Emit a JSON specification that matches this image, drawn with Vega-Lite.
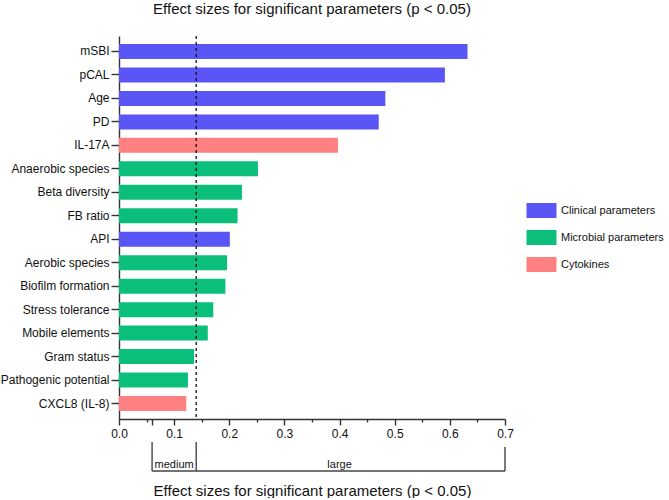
{
  "$schema": "https://vega.github.io/schema/vega-lite/v6.json",
  "padding": {"left": 0, "top": 2, "right": 0, "bottom": 0},
  "background": "white",
  "config": {
    "view": {"stroke": null},
    "font": "Liberation Sans",
    "axis": {"labelFont": "Liberation Sans", "titleFont": "Liberation Sans", "labelColor": "#111", "titleColor": "#111", "domainColor": "#333", "tickColor": "#333", "domainWidth": 1.4, "tickWidth": 1.4, "grid": false},
    "legend": {"labelFont": "Liberation Sans"},
    "title": {"font": "Liberation Sans"}
  },
  "spacing": 2,
  "vconcat": [
    {
      "width": 386,
      "height": 383,
      "title": {"text": "Effect sizes for significant parameters (p < 0.05)", "fontSize": 15, "fontWeight": "normal", "color": "#111", "anchor": "middle", "offset": 18},
      "layer": [
        {
          "data": {"values": [
            {"param": "mSBI", "effect": 0.632, "group": "Clinical parameters"},
            {"param": "pCAL", "effect": 0.591, "group": "Clinical parameters"},
            {"param": "Age", "effect": 0.483, "group": "Clinical parameters"},
            {"param": "PD", "effect": 0.471, "group": "Clinical parameters"},
            {"param": "IL-17A", "effect": 0.397, "group": "Cytokines"},
            {"param": "Anaerobic species", "effect": 0.252, "group": "Microbial parameters"},
            {"param": "Beta diversity", "effect": 0.223, "group": "Microbial parameters"},
            {"param": "FB ratio", "effect": 0.215, "group": "Microbial parameters"},
            {"param": "API", "effect": 0.201, "group": "Clinical parameters"},
            {"param": "Aerobic species", "effect": 0.196, "group": "Microbial parameters"},
            {"param": "Biofilm formation", "effect": 0.193, "group": "Microbial parameters"},
            {"param": "Stress tolerance", "effect": 0.171, "group": "Microbial parameters"},
            {"param": "Mobile elements", "effect": 0.161, "group": "Microbial parameters"},
            {"param": "Gram status", "effect": 0.136, "group": "Microbial parameters"},
            {"param": "Pathogenic potential", "effect": 0.125, "group": "Microbial parameters"},
            {"param": "CXCL8 (IL-8)", "effect": 0.122, "group": "Cytokines"}
          ]},
          "mark": {"type": "bar"},
          "encoding": {
            "y": {"field": "param", "type": "nominal", "sort": null, "title": null,
              "scale": {"paddingInner": 0.36, "paddingOuter": 0.34},
              "axis": {"labelFontSize": 12, "tickSize": 8, "labelPadding": 2}},
            "x": {"field": "effect", "type": "quantitative", "title": null,
              "scale": {"domain": [0, 0.7], "nice": false},
              "axis": {"values": [0, 0.05, 0.06, 0.1, 0.15, 0.2, 0.25, 0.3, 0.35, 0.4, 0.45, 0.5, 0.55, 0.6, 0.65, 0.7],
                "tickCount": 30,
                "labelExpr": "slice(format(datum.value, '.2f'), -1) == '0' ? format(datum.value, '.1f') : ''",
                "tickSize": {"condition": {"test": "slice(format(datum.value, '.2f'), -1) == '5'", "value": 3}, "value": 6},
                "labelOverlap": false,
                "labelFontSize": 12, "labelPadding": 3, "labelFlush": false}},
            "color": {"field": "group", "type": "nominal",
              "scale": {"domain": ["Clinical parameters", "Microbial parameters", "Cytokines"], "range": ["#5A55F5", "#0BBF7B", "#FF8080"]},
              "legend": {"title": null, "orient": "none", "legendX": 415, "legendY": 167,
                "symbolType": "M-2,-1H2V1H-2Z", "symbolSize": 225, "symbolStrokeWidth": 0, "symbolOpacity": 1,
                "labelFontSize": 11, "labelColor": "#111", "labelOffset": 12, "rowPadding": 12}}
          }
        },
        {
          "data": {"values": [{"threshold": 0.14}]},
          "mark": {"type": "rule", "strokeDash": [3, 3], "color": "#111", "strokeWidth": 1.3},
          "encoding": {"x": {"field": "threshold", "type": "quantitative"}}
        }
      ]
    },
    {
      "width": 386,
      "height": 29,
      "layer": [
        {
          "data": {"values": [
            {"x": 0.06, "x2": 0.06, "y": 0, "y2": 1},
            {"x": 0.14, "x2": 0.14, "y": 0, "y2": 1},
            {"x": 0.7, "x2": 0.7, "y": 0, "y2": 0.83},
            {"x": 0.06, "x2": 0.7, "y": 0, "y2": 0}
          ]},
          "mark": {"type": "rule", "color": "#444", "strokeWidth": 1.4},
          "encoding": {
            "x": {"field": "x", "type": "quantitative", "scale": {"domain": [0, 0.7], "nice": false},
              "title": "Effect sizes for significant parameters (p < 0.05)",
              "axis": {"domain": false, "ticks": false, "labels": false, "titleFontSize": 15, "titleFontWeight": "normal", "titlePadding": 12}},
            "x2": {"field": "x2"},
            "y": {"field": "y", "type": "quantitative", "scale": {"domain": [0, 1]}, "axis": null},
            "y2": {"field": "y2"}
          }
        },
        {
          "data": {"values": [
            {"label": "medium", "x": 0.1, "y": 0.22},
            {"label": "large", "x": 0.4, "y": 0.22}
          ]},
          "mark": {"type": "text", "fontSize": 11, "color": "#111", "baseline": "middle"},
          "encoding": {
            "x": {"field": "x", "type": "quantitative"},
            "y": {"field": "y", "type": "quantitative"},
            "text": {"field": "label"}
          }
        }
      ]
    }
  ]
}
